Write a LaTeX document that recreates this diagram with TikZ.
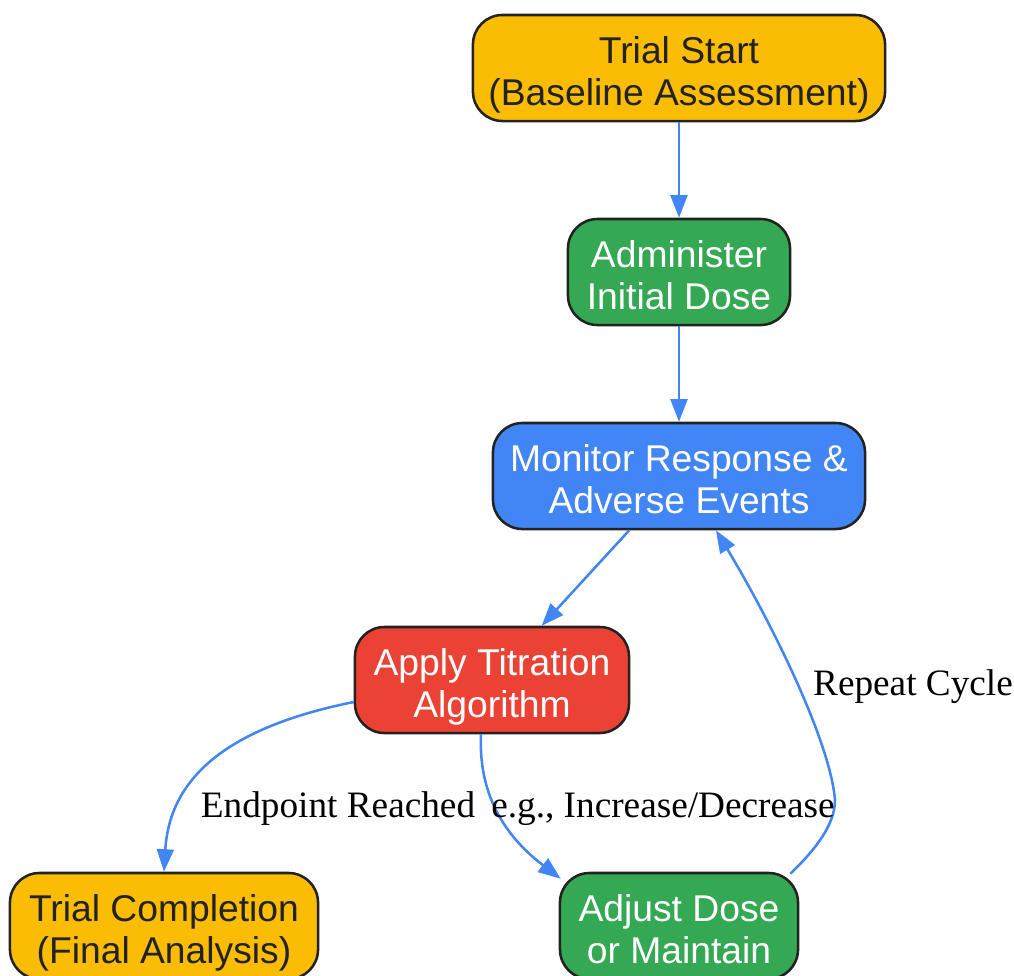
\documentclass[tikz,border=0pt]{standalone}
\usepackage{fontspec}
\setmainfont{Liberation Serif}
\setsansfont{Liberation Sans}
\usepackage{xcolor}
\usepackage{tikz}
\usetikzlibrary{arrows.meta,calc}
\definecolor{gyellow}{HTML}{FBBC04}
\definecolor{ggreen}{HTML}{34A853}
\definecolor{gblue}{HTML}{4285F4}
\definecolor{gred}{HTML}{EA4335}
\definecolor{dark}{HTML}{222222}

\begin{document}
\begin{tikzpicture}[x=0.025cm,y=-0.025cm]
\tikzstyle{box}=[rectangle, rounded corners=21pt, draw=dark, line width=1.8pt,
                 minimum height=2.65cm, align=center, text=white,
                 font=\sffamily\fontsize{26.5}{30}\selectfont,
                 text height=58pt, text depth=5pt]
\tikzstyle{arr}=[draw=gblue, line width=1.8pt, -{Triangle[length=16pt,width=12pt]}]
\tikzstyle{lbl}=[inner sep=0pt, font=\fontsize{26.5}{30}\selectfont]
\clip (0,0) rectangle (1014,975);
\node[box, fill=gyellow, text=dark, minimum width=10.3cm] (1) at (679,68) {Trial Start\\(Baseline Assessment)};
\node[box, fill=ggreen, minimum width=5.55cm] (2) at (679,272) {Administer\\Initial Dose};
\node[box, fill=gblue, minimum width=9.3cm] (3) at (679,476) {Monitor Response \&\\Adverse Events};
\node[box, fill=gred, minimum width=6.85cm] (4) at (492,680) {Apply Titration\\Algorithm};
\node[box, fill=gyellow, text=dark, minimum width=7.7cm] (5) at (164,926) {Trial Completion\\(Final Analysis)};
\node[box, fill=ggreen, minimum width=5.95cm] (6) at (679,926) {Adjust Dose\\or Maintain};
\foreach \i/\j in {1/2,2/3,3/4}{\draw[arr] (\i) -- (\j);}
% branches out of the titration step
\draw[arr] ($(4.west)+(0,22)$) .. controls (240,725) and (170,770) .. (5.north);
\draw[arr] ($(4.south)+(-11,0)$) .. controls (478,800) and (510,840) .. ($(6.north west)+(2,7)$);
\draw[arr] ($(6.north east)+(-9,2)$) .. controls (815,850) and (835,825) .. (835,800)
           .. controls (830,740) and (770,620) .. ($(3.south)+(37,0)$);
\node[lbl] (endp) at (338,809) {Endpoint Reached};
\node[lbl] (incr) at (663,809) {e.g., Increase/Decrease};
\node[lbl] (rep) at (913,687) {Repeat Cycle};
\end{tikzpicture}
\end{document}
